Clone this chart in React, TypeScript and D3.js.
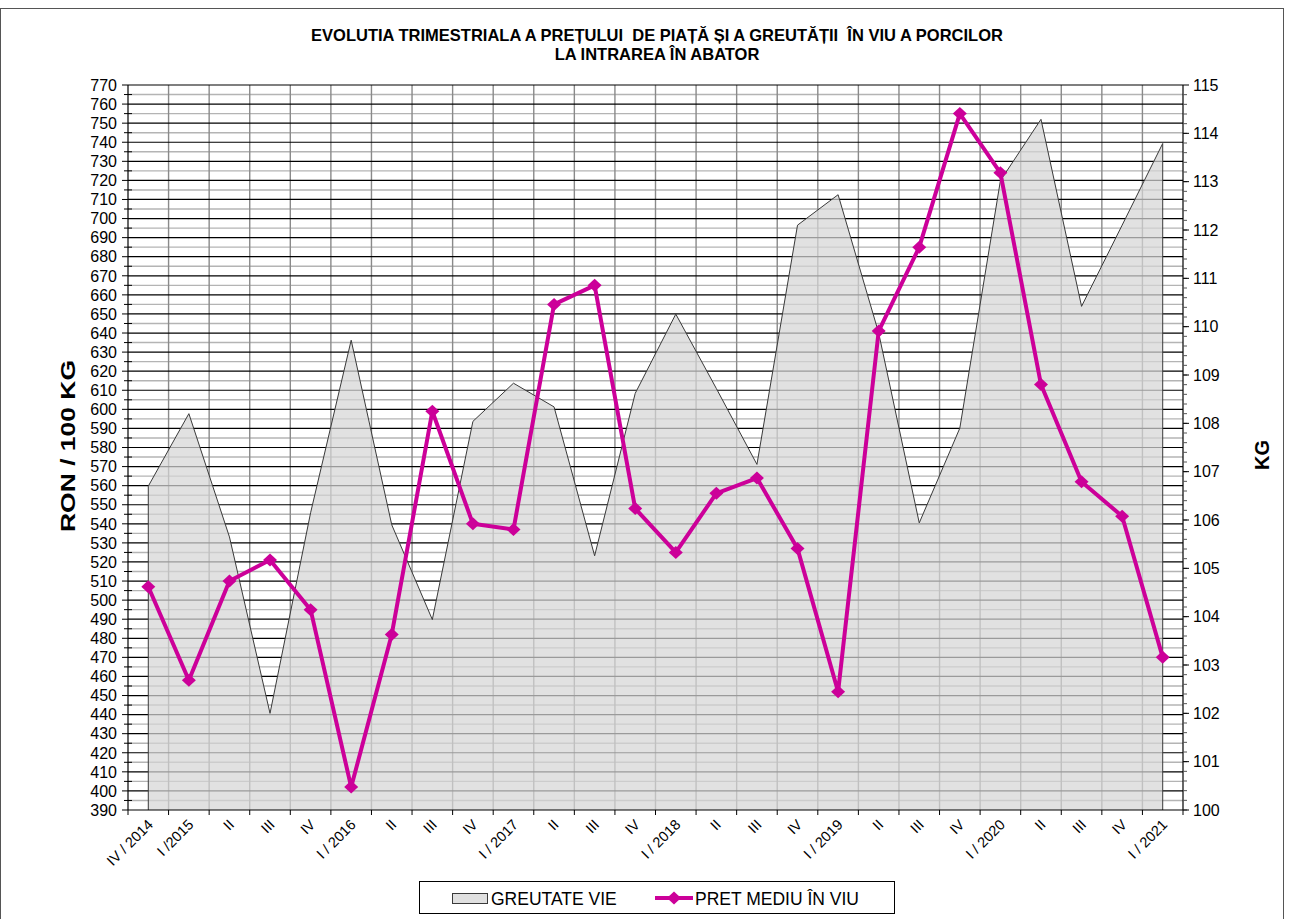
import { useEffect, useRef } from 'react';
import * as d3 from 'd3';

// quarters, IV/2014 .. I/2021
const categories = [
  'IV / 2014', 'I /2015', 'II', 'III', 'IV',
  'I / 2016', 'II', 'III', 'IV',
  'I / 2017', 'II', 'III', 'IV',
  'I / 2018', 'II', 'III', 'IV',
  'I / 2019', 'II', 'III', 'IV',
  'I / 2020', 'II', 'III', 'IV',
  'I / 2021',
];

// GREUTATE VIE (kg, right axis)
const weight = [
  106.7, 108.2, 105.65, 102.0, 106.15,
  109.72, 105.9, 103.94, 108.04,
  108.83, 108.34, 105.26, 108.62,
  110.26, 108.72, 107.15, 112.1,
  112.73, 109.87, 105.94, 107.9,
  113.02, 114.29, 110.42, 112.1,
  113.79,
];

// PRET MEDIU IN VIU (RON / 100 kg, left axis)
const price = [
  507, 458, 510, 521, 495,
  402, 482, 599, 540,
  537, 655, 665, 548,
  525, 556, 564, 527,
  452, 641, 685, 755,
  724, 613, 562, 544,
  470,
];

const leftTicks = d3.range(390, 771, 10);
const rightTicks = d3.range(100, 116, 1);

const titleLines = [
  'EVOLUTIA TRIMESTRIALA A PREȚULUI  DE PIAȚĂ ȘI A GREUTĂȚII  ÎN VIU A PORCILOR',
  'LA INTRAREA ÎN ABATOR',
];

const MAGENTA = '#cc0099';
const FONT = '"Liberation Sans", Arial, sans-serif';

const W = 1292;
const H = 919;

const Chart = () => {
  const svgRef = useRef<SVGSVGElement | null>(null);

  useEffect(() => {
    if (!svgRef.current) return;
    const svg = d3.select(svgRef.current);
    svg.selectAll('*').remove();

    const plot = { left: 128, right: 1183, top: 85, bottom: 810 };

    const x = d3.scaleBand<number>()
      .domain(categories.map((_, i) => i))
      .range([plot.left, plot.right])
      .paddingInner(0)
      .paddingOuter(0);
    const cx = (i: number) => (x(i) as number) + x.bandwidth() / 2;

    const yL = d3.scaleLinear().domain([390, 770]).range([plot.bottom, plot.top]);
    const yR = d3.scaleLinear().domain([100, 115]).range([plot.bottom, plot.top]);

    // chart border
    svg.append('rect')
      .attr('x', 0.5).attr('y', 8.5)
      .attr('width', 1283).attr('height', H)
      .attr('fill', '#fff')
      .attr('stroke', '#555');

    // title
    titleLines.forEach((t, i) => {
      svg.append('text')
        .attr('x', 657)
        .attr('y', 41 + i * 19)
        .attr('text-anchor', 'middle')
        .style('font-family', FONT)
        .style('font-size', '16.5px')
        .style('font-weight', 'bold')
        .style('white-space', 'pre')
        .text(t);
    });

    const g = svg.append('g');

    // minor horizontal gridlines (every 5)
    g.selectAll('line.minor')
      .data(d3.range(395, 770, 10))
      .enter()
      .append('line')
      .attr('x1', plot.left).attr('x2', plot.right)
      .attr('y1', d => yL(d)).attr('y2', d => yL(d))
      .attr('stroke', '#b4b4b4')
      .attr('stroke-width', 1.4);

    // vertical gridlines on category boundaries
    g.selectAll('line.vgrid')
      .data(d3.range(1, categories.length))
      .enter()
      .append('line')
      .attr('x1', d => x(d) as number).attr('x2', d => x(d) as number)
      .attr('y1', plot.top).attr('y2', plot.bottom)
      .attr('stroke', '#8a8a8a')
      .attr('stroke-width', 1.4);

    // major horizontal gridlines (every 10)
    g.selectAll('line.major')
      .data(leftTicks.filter(d => d > 390))
      .enter()
      .append('line')
      .attr('x1', plot.left).attr('x2', plot.right)
      .attr('y1', d => yL(d)).attr('y2', d => yL(d))
      .attr('stroke', '#000')
      .attr('stroke-width', 1.2);

    // weight area
    const area = d3.area<number>()
      .x((_, i) => cx(i))
      .y0(plot.bottom)
      .y1(d => yR(d));
    g.append('path')
      .datum(weight)
      .attr('d', area)
      .attr('fill', '#d6d6d6')
      .attr('fill-opacity', 0.72)
      .attr('stroke', 'none');

    const outline = d3.line<[number, number]>();
    const outlinePts: [number, number][] = [
      [cx(0), plot.bottom],
      ...weight.map((d, i) => [cx(i), yR(d)] as [number, number]),
      [cx(weight.length - 1), plot.bottom],
    ];
    g.append('path')
      .attr('d', outline(outlinePts))
      .attr('fill', 'none')
      .attr('stroke', '#3a3a3a')
      .attr('stroke-width', 1);

    // axes lines
    g.append('line')
      .attr('x1', plot.left).attr('x2', plot.left)
      .attr('y1', plot.top).attr('y2', plot.bottom)
      .attr('stroke', '#000').attr('stroke-width', 1.2);
    g.append('line')
      .attr('x1', plot.right).attr('x2', plot.right)
      .attr('y1', plot.top).attr('y2', plot.bottom)
      .attr('stroke', '#000').attr('stroke-width', 1.2);
    g.append('line')
      .attr('x1', plot.left).attr('x2', plot.right)
      .attr('y1', plot.bottom).attr('y2', plot.bottom)
      .attr('stroke', '#000').attr('stroke-width', 1.2);

    // left ticks
    g.selectAll('line.lmaj')
      .data(leftTicks)
      .enter()
      .append('line')
      .attr('x1', plot.left - 6).attr('x2', plot.left)
      .attr('y1', d => yL(d)).attr('y2', d => yL(d))
      .attr('stroke', '#000');
    g.selectAll('line.lmin')
      .data(d3.range(395, 770, 10))
      .enter()
      .append('line')
      .attr('x1', plot.left - 4).attr('x2', plot.left + 4)
      .attr('y1', d => yL(d)).attr('y2', d => yL(d))
      .attr('stroke', '#000');
    g.selectAll('text.lt')
      .data(leftTicks)
      .enter()
      .append('text')
      .attr('x', plot.left - 11)
      .attr('y', d => yL(d))
      .attr('dy', '0.36em')
      .attr('text-anchor', 'end')
      .style('font-family', FONT)
      .style('font-size', '16px')
      .text(d => d);

    // right ticks
    g.selectAll('line.rmin')
      .data(d3.range(0, 75).map(k => 100 + k * 0.2))
      .enter()
      .append('line')
      .attr('x1', plot.right).attr('x2', plot.right + 4)
      .attr('y1', d => yR(d)).attr('y2', d => yR(d))
      .attr('stroke', '#555');
    g.selectAll('line.rmaj')
      .data(rightTicks)
      .enter()
      .append('line')
      .attr('x1', plot.right).attr('x2', plot.right + 6)
      .attr('y1', d => yR(d)).attr('y2', d => yR(d))
      .attr('stroke', '#000');
    g.selectAll('text.rt')
      .data(rightTicks)
      .enter()
      .append('text')
      .attr('x', plot.right + 10)
      .attr('y', d => yR(d))
      .attr('dy', '0.36em')
      .style('font-family', FONT)
      .style('font-size', '16px')
      .text(d => d);

    // bottom ticks & labels
    g.selectAll('line.bt')
      .data(d3.range(0, categories.length + 1))
      .enter()
      .append('line')
      .attr('x1', d => plot.left + d * x.bandwidth())
      .attr('x2', d => plot.left + d * x.bandwidth())
      .attr('y1', plot.bottom).attr('y2', plot.bottom + 5)
      .attr('stroke', '#000');
    g.selectAll('text.xl')
      .data(categories)
      .enter()
      .append('text')
      .attr('transform', (_, i) => `translate(${cx(i) + 2},${plot.bottom + 12}) rotate(-45)`)
      .attr('text-anchor', 'end')
      .attr('dy', '0.35em')
      .style('font-family', FONT)
      .style('font-size', '14.5px')
      .text(d => d);

    // price line
    const line = d3.line<number>()
      .x((_, i) => cx(i))
      .y(d => yL(d));
    g.append('path')
      .datum(price)
      .attr('d', line)
      .attr('fill', 'none')
      .attr('stroke', MAGENTA)
      .attr('stroke-width', 4)
      .attr('stroke-linejoin', 'round');

    const diamond = (px: number, py: number) =>
      `M${px},${py - 6.5}L${px + 7},${py}L${px},${py + 6.5}L${px - 7},${py}Z`;
    g.selectAll('path.mk')
      .data(price)
      .enter()
      .append('path')
      .attr('d', (d, i) => diamond(cx(i), yL(d)))
      .attr('fill', MAGENTA);

    // axis titles
    svg.append('text')
      .attr('transform', 'translate(68,446) rotate(-90)')
      .attr('text-anchor', 'middle')
      .attr('dy', '0.35em')
      .attr('textLength', 172)
      .attr('lengthAdjust', 'spacingAndGlyphs')
      .style('font-family', FONT)
      .style('font-size', '20px')
      .style('font-weight', 'bold')
      .text('RON / 100 KG');
    svg.append('text')
      .attr('transform', 'translate(1262,455) rotate(-90)')
      .attr('text-anchor', 'middle')
      .attr('dy', '0.35em')
      .attr('textLength', 30)
      .attr('lengthAdjust', 'spacingAndGlyphs')
      .style('font-family', FONT)
      .style('font-size', '20px')
      .style('font-weight', 'bold')
      .text('KG');

    // legend
    const lg = svg.append('g');
    lg.append('rect')
      .attr('x', 419.5).attr('y', 881.5)
      .attr('width', 475).attr('height', 32)
      .attr('fill', '#fff')
      .attr('stroke', '#000');
    lg.append('rect')
      .attr('x', 452.5).attr('y', 893.5)
      .attr('width', 35).attr('height', 10)
      .attr('fill', '#e0e0e0')
      .attr('stroke', '#3a3a3a');
    lg.append('text')
      .attr('x', 491).attr('y', 905)
      .style('font-family', FONT)
      .style('font-size', '17.5px')
      .text('GREUTATE VIE');
    lg.append('line')
      .attr('x1', 655).attr('x2', 693)
      .attr('y1', 898).attr('y2', 898)
      .attr('stroke', MAGENTA)
      .attr('stroke-width', 4);
    lg.append('path')
      .attr('d', diamond(674, 898))
      .attr('fill', MAGENTA);
    lg.append('text')
      .attr('x', 695).attr('y', 905)
      .style('font-family', FONT)
      .style('font-size', '17.5px')
      .text('PRET MEDIU ÎN VIU');
  }, []);

  return (
    <svg
      ref={svgRef}
      width={W}
      height={H}
      style={{ position: 'absolute', left: 0, top: 0, background: '#fff' }}
    />
  );
};

export default function App() {
  return <Chart />;
}
